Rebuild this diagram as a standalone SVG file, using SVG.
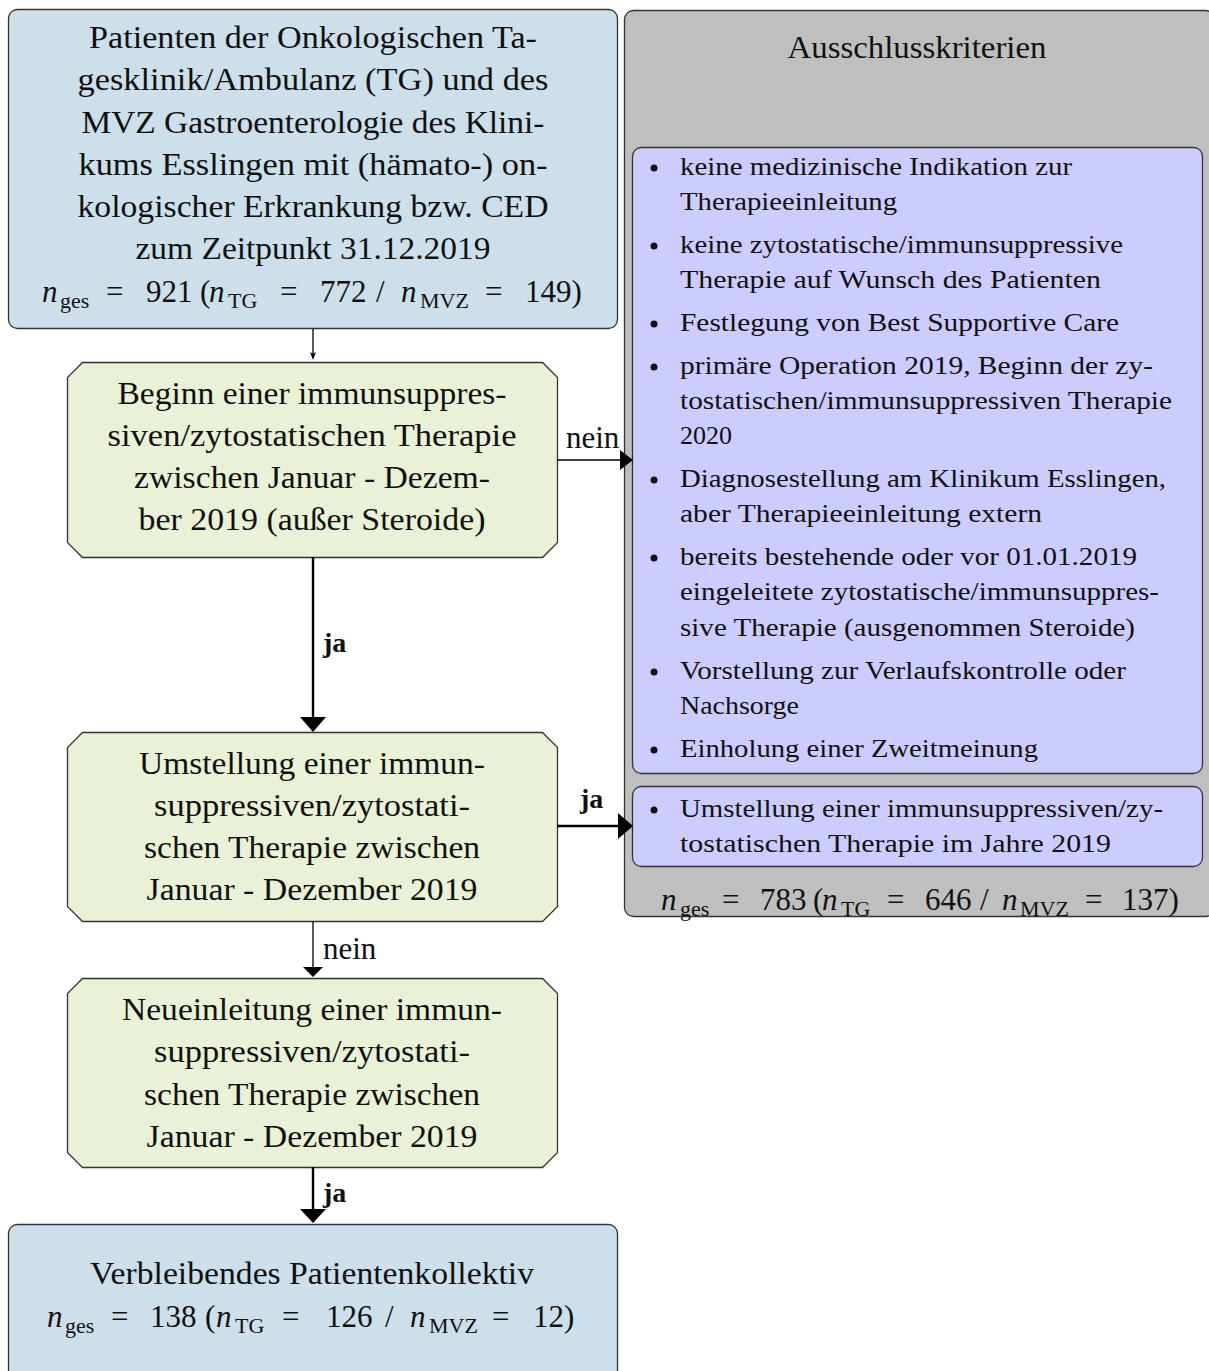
<svg xmlns="http://www.w3.org/2000/svg" width="1209" height="1371" viewBox="0 0 1209 1371">
  <defs>
    <style>
      .t { font-family: "Liberation Serif", "DejaVu Serif", serif; font-size: 31px; fill: #111; }
      .c { text-anchor: middle; }
      .b { font-family: "Liberation Serif", "DejaVu Serif", serif; font-size: 25px; fill: #111; }
      .i { font-style: italic; }
      .s { font-size: 22px; }
      .bold { font-weight: bold; font-size: 28px; }
      .blue { fill: #ccdfea; stroke: #333; stroke-width: 1.3; }
      .green { fill: #e9f1d6; stroke: #333; stroke-width: 1.3; }
      .gray { fill: #bfbfbf; stroke: #333; stroke-width: 1.3; }
      .lav { fill: #ccccff; stroke: #333; stroke-width: 1.3; }
      .thin { stroke: #000; stroke-width: 1.3; fill: none; }
      .thick { stroke: #000; stroke-width: 2.4; fill: none; }
    </style>
  </defs>

  <!-- exclusion criteria panel -->
  <g id="exclusion">
    <rect class="gray" x="624.5" y="10.5" width="590" height="906" rx="9"/>
    <text class="t c" x="917" y="58" textLength="259" lengthAdjust="spacingAndGlyphs">Ausschlusskriterien</text>
    <text class="t" y="910"><tspan class="i" x="661">n</tspan><tspan class="s" x="680" y="916">ges</tspan><tspan x="722" y="910">=</tspan><tspan x="760">783</tspan><tspan x="813">(</tspan><tspan class="i" x="822">n</tspan><tspan class="s" x="841" y="916">TG</tspan><tspan x="887" y="910">=</tspan><tspan x="925">646</tspan><tspan x="980">/</tspan><tspan class="i" x="1002">n</tspan><tspan class="s" x="1020" y="916">MVZ</tspan><tspan x="1085" y="910">=</tspan><tspan x="1122">137)</tspan></text>
  </g>

  <g id="criteria">
    <rect class="lav" x="632.5" y="147.5" width="570" height="626" rx="9"/>
    <g class="b">
      <circle cx="654" cy="168" r="3.5"/>
      <text x="680" y="175" textLength="392" lengthAdjust="spacingAndGlyphs">keine medizinische Indikation zur</text>
      <text x="680" y="210" textLength="217" lengthAdjust="spacingAndGlyphs">Therapieeinleitung</text>
      <circle cx="654" cy="246" r="3.5"/>
      <text x="680" y="253" textLength="443" lengthAdjust="spacingAndGlyphs">keine zytostatische/immunsuppressive</text>
      <text x="680" y="288" textLength="421" lengthAdjust="spacingAndGlyphs">Therapie auf Wunsch des Patienten</text>
      <circle cx="654" cy="324" r="3.5"/>
      <text x="680" y="331" textLength="439" lengthAdjust="spacingAndGlyphs">Festlegung von Best Supportive Care</text>
      <circle cx="654" cy="367" r="3.5"/>
      <text x="680" y="374" textLength="473" lengthAdjust="spacingAndGlyphs">primäre Operation 2019, Beginn der zy-</text>
      <text x="680" y="409" textLength="492" lengthAdjust="spacingAndGlyphs">tostatischen/immunsuppressiven Therapie</text>
      <text x="680" y="444" textLength="52" lengthAdjust="spacingAndGlyphs">2020</text>
      <circle cx="654" cy="480" r="3.5"/>
      <text x="680" y="487" textLength="486" lengthAdjust="spacingAndGlyphs">Diagnosestellung am Klinikum Esslingen,</text>
      <text x="680" y="522" textLength="362" lengthAdjust="spacingAndGlyphs">aber Therapieeinleitung extern</text>
      <circle cx="654" cy="558" r="3.5"/>
      <text x="680" y="565" textLength="457" lengthAdjust="spacingAndGlyphs">bereits bestehende oder vor 01.01.2019</text>
      <text x="680" y="600" textLength="479" lengthAdjust="spacingAndGlyphs">eingeleitete zytostatische/immunsuppres-</text>
      <text x="680" y="636" textLength="455" lengthAdjust="spacingAndGlyphs">sive Therapie (ausgenommen Steroide)</text>
      <circle cx="654" cy="672" r="3.5"/>
      <text x="680" y="679" textLength="446" lengthAdjust="spacingAndGlyphs">Vorstellung zur Verlaufskontrolle oder</text>
      <text x="680" y="714" textLength="119" lengthAdjust="spacingAndGlyphs">Nachsorge</text>
      <circle cx="654" cy="750" r="3.5"/>
      <text x="680" y="757" textLength="358" lengthAdjust="spacingAndGlyphs">Einholung einer Zweitmeinung</text>
    </g>
  </g>

  <g id="criteria-switch">
    <rect class="lav" x="632.5" y="786.5" width="570" height="80" rx="9"/>
    <g class="b">
      <circle cx="654" cy="810" r="3.5"/>
      <text x="680" y="817" textLength="483" lengthAdjust="spacingAndGlyphs">Umstellung einer immunsuppressiven/zy-</text>
      <text x="680" y="852" textLength="431" lengthAdjust="spacingAndGlyphs">tostatischen Therapie im Jahre 2019</text>
    </g>
  </g>

  <!-- main flow -->
  <g id="start">
    <rect class="blue" x="8.5" y="9.5" width="609" height="319" rx="9"/>
    <text class="t c" x="313" y="48" textLength="448" lengthAdjust="spacingAndGlyphs">Patienten der Onkologischen Ta-</text>
    <text class="t c" x="313" y="90" textLength="471" lengthAdjust="spacingAndGlyphs">gesklinik/Ambulanz (TG) und des</text>
    <text class="t c" x="313" y="133" textLength="463" lengthAdjust="spacingAndGlyphs">MVZ Gastroenterologie des Klini-</text>
    <text class="t c" x="313" y="175" textLength="469" lengthAdjust="spacingAndGlyphs">kums Esslingen mit (hämato-) on-</text>
    <text class="t c" x="313" y="217" textLength="471" lengthAdjust="spacingAndGlyphs">kologischer Erkrankung bzw. CED</text>
    <text class="t c" x="313" y="259" textLength="355" lengthAdjust="spacingAndGlyphs">zum Zeitpunkt 31.12.2019</text>
    <text class="t" y="302"><tspan class="i" x="42">n</tspan><tspan class="s" x="60" y="308">ges</tspan><tspan x="106" y="302">=</tspan><tspan x="146">921</tspan><tspan x="200">(</tspan><tspan class="i" x="209">n</tspan><tspan class="s" x="228" y="308">TG</tspan><tspan x="280" y="302">=</tspan><tspan x="320">772</tspan><tspan x="376">/</tspan><tspan class="i" x="401">n</tspan><tspan class="s" x="420" y="308">MVZ</tspan><tspan x="485" y="302">=</tspan><tspan x="525">149)</tspan></text>
  </g>

  <g id="begin">
    <polygon class="green" points="82.5,362.5 542.5,362.5 557.5,377.5 557.5,542.5 542.5,557.5 82.5,557.5 67.5,542.5 67.5,377.5"/>
    <text class="t c" x="312" y="404" textLength="389" lengthAdjust="spacingAndGlyphs">Beginn einer immunsuppres-</text>
    <text class="t c" x="312" y="446" textLength="409" lengthAdjust="spacingAndGlyphs">siven/zytostatischen Therapie</text>
    <text class="t c" x="312" y="488" textLength="356" lengthAdjust="spacingAndGlyphs">zwischen Januar - Dezem-</text>
    <text class="t c" x="312" y="530" textLength="347" lengthAdjust="spacingAndGlyphs">ber 2019 (außer Steroide)</text>
  </g>

  <g id="switch">
    <polygon class="green" points="82.5,732.5 542.5,732.5 557.5,747.5 557.5,906.5 542.5,921.5 82.5,921.5 67.5,906.5 67.5,747.5"/>
    <text class="t c" x="312" y="774" textLength="346" lengthAdjust="spacingAndGlyphs">Umstellung einer immun-</text>
    <text class="t c" x="312" y="816" textLength="316" lengthAdjust="spacingAndGlyphs">suppressiven/zytostati-</text>
    <text class="t c" x="312" y="858" textLength="336" lengthAdjust="spacingAndGlyphs">schen Therapie zwischen</text>
    <text class="t c" x="312" y="900" textLength="331" lengthAdjust="spacingAndGlyphs">Januar - Dezember 2019</text>
  </g>

  <g id="new-start">
    <polygon class="green" points="82.5,978.5 542.5,978.5 557.5,993.5 557.5,1152.5 542.5,1167.5 82.5,1167.5 67.5,1152.5 67.5,993.5"/>
    <text class="t c" x="312" y="1020" textLength="380" lengthAdjust="spacingAndGlyphs">Neueinleitung einer immun-</text>
    <text class="t c" x="312" y="1062" textLength="316" lengthAdjust="spacingAndGlyphs">suppressiven/zytostati-</text>
    <text class="t c" x="312" y="1105" textLength="336" lengthAdjust="spacingAndGlyphs">schen Therapie zwischen</text>
    <text class="t c" x="312" y="1147" textLength="331" lengthAdjust="spacingAndGlyphs">Januar - Dezember 2019</text>
  </g>

  <g id="result">
    <rect class="blue" x="8.5" y="1224.5" width="609" height="160" rx="9"/>
    <text class="t c" x="312" y="1284" textLength="444" lengthAdjust="spacingAndGlyphs">Verbleibendes Patientenkollektiv</text>
    <text class="t" y="1327"><tspan class="i" x="47">n</tspan><tspan class="s" x="65" y="1333">ges</tspan><tspan x="111" y="1327">=</tspan><tspan x="150">138</tspan><tspan x="205">(</tspan><tspan class="i" x="216">n</tspan><tspan class="s" x="235" y="1333">TG</tspan><tspan x="282" y="1327">=</tspan><tspan x="326">126</tspan><tspan x="385">/</tspan><tspan class="i" x="410">n</tspan><tspan class="s" x="429" y="1333">MVZ</tspan><tspan x="492" y="1327">=</tspan><tspan x="533">12)</tspan></text>
  </g>

  <!-- connectors -->
  <g id="connectors">
    <line class="thin" x1="313" y1="329" x2="313" y2="356"/>
    <polygon points="310,352 313,360 316,352 313,354" fill="#000"/>

    <line class="thin" x1="557" y1="460" x2="622" y2="460"/>
    <polygon points="620,450 633,460 620,470" fill="#000"/>
    <text class="t" x="566" y="448">nein</text>

    <line class="thick" x1="313" y1="557" x2="313" y2="718"/>
    <polygon points="300,717 326,717 313,732" fill="#000"/>
    <text class="t bold" x="323" y="652">ja</text>

    <line class="thick" x1="557" y1="826" x2="620" y2="826"/>
    <polygon points="618,813 633,826 618,839" fill="#000"/>
    <text class="t bold" x="580" y="808">ja</text>

    <line class="thin" x1="313" y1="921" x2="313" y2="968"/>
    <polygon points="303,967 323,967 313,977" fill="#000"/>
    <text class="t" x="323" y="959">nein</text>

    <line class="thick" x1="313" y1="1167" x2="313" y2="1210"/>
    <polygon points="300,1209 326,1209 313,1223" fill="#000"/>
    <text class="t bold" x="323" y="1202">ja</text>
  </g>
</svg>
